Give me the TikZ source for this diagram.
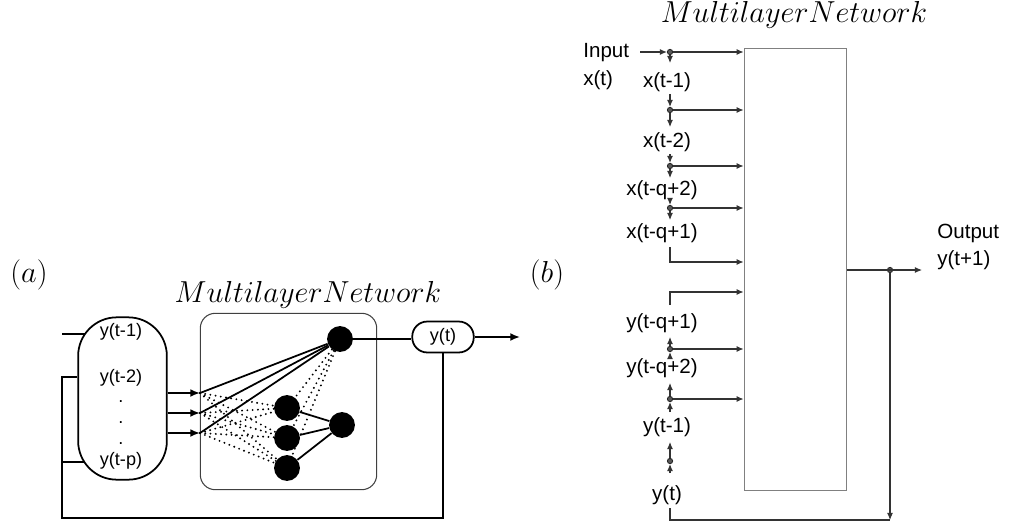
\documentclass[tikz,border=0pt]{standalone}
\usepackage{fontspec}
\newfontfamily\hv{Liberation Sans}
\usetikzlibrary{arrows.meta}
\begin{document}
\begin{tikzpicture}[x=0.02cm,y=-0.02cm,
  lbl/.style={font=\hv\fontsize{10.3}{12}\selectfont, inner sep=0pt},
  lblb/.style={font=\hv\fontsize{11.7}{13}\selectfont, inner sep=0pt},
  ttl/.style={font=\fontsize{17.3}{20}\selectfont, inner sep=0pt},
  neuron/.style={circle, fill=black, minimum size=14.7pt, inner sep=0pt},
  lineA/.style={line width=1pt, black},
  arrA/.style={lineA, -{Latex[length=5.5pt,width=4.5pt]}},
  dotl/.style={line width=1.2pt, line cap=round, dash pattern=on 0pt off 3pt},
  lineB/.style={line width=0.6pt, black!80},
  arrB/.style={lineB, -{Latex[length=4pt,width=3.4pt]}},
  jdot/.style={circle, draw=black!85, fill=black!65, line width=0.5pt, minimum size=3pt, inner sep=0pt},
]
\useasboundingbox (0,0) rectangle (1013,527);

% ---------------- panel (a) ----------------
\node[ttl] (la) at (29,275) {$(a)$};
\node[ttl] (ta) at (308,295) {$Multilayer Network$};
\node[draw, lineA, rounded corners=22pt, minimum width=50.5pt, minimum height=92.4pt, inner sep=0pt] (stad) at (122.5,398.5) {};
\node[lbl] (s1) at (121,332) {y(t-1)};
\node[lbl] (s2) at (121,378) {y(t-2)};
\node[lbl] (sd1) at (121,402) {.};
\node[lbl] (sd2) at (121,423) {.};
\node[lbl] (sd3) at (121,444) {.};
\node[lbl] (sp) at (121,461) {y(t-p)};

\node[draw, black!75, line width=0.6pt, rounded corners=8.5pt, minimum width=100.4pt, minimum height=100.4pt, inner sep=0pt] (net) at (288.5,401.5) {};
\node[neuron] (o) at (340,339) {};
\node[neuron] (h1) at (287,408) {};
\node[neuron] (h2) at (287,438) {};
\node[neuron] (h3) at (287,468) {};
\node[neuron] (h4) at (342,425) {};
\coordinate (i1) at (200,393);
\coordinate (i2) at (200,413);
\coordinate (i3) at (200,433);

\node[draw, lineA, rounded corners=8.5pt, minimum width=35pt, minimum height=17.6pt, lbl] (yt) at (443,337) {y(t)};
\coordinate (aout) at (520,337);
\coordinate (tl) at (62,334);
\coordinate (tle) at (85,334);
\coordinate (bl) at (62,462);
\coordinate (ble) at (85,462);

\foreach \i in {i1,i2,i3} \draw[arrA] (stad.east |- \i) -- (\i);
\foreach \i in {i1,i2,i3} \foreach \h in {h1,h2,h3} \draw[dotl] (\i) -- (\h);
\foreach \h in {h1,h2,h3} \draw[dotl] (o) -- (\h);
\foreach \i in {i1,i2,i3} \draw[lineA] (\i) -- (o);
\foreach \h in {h1,h2,h3} \draw[lineA] (\h) -- (h4);
\draw[lineA] (o.east) -- (yt.west |- o.east);
\draw[arrA] (yt.east) -- (aout);
\draw[lineA] (yt.south) |- (62,518) |- (stad.west |- 0,377);
\draw[lineA] (bl) -- (ble);
\draw[lineA] (tl) -- (tle);

% ---------------- panel (b) ----------------
\node[ttl] (lb) at (547,275) {$(b)$};
\node[ttl] (tb) at (794,15) {$Multilayer Network$};
\node[draw, black!50, line width=0.7pt, minimum width=58.4pt, minimum height=251.2pt, inner sep=0pt] (mln) at (795.5,269.5) {};

\node[lblb, anchor=west] (inp) at (583,53) {Input};
\node[lblb, anchor=west] (xt) at (583,80) {x(t)};
\node[lblb] (xt1) at (667,82) {x(t-1)};
\node[lblb] (xt2) at (667,142) {x(t-2)};
\node[lblb] (xq2) at (662,190) {x(t-q+2)};
\node[lblb] (xq1) at (662,233) {x(t-q+1)};
\node[lblb] (yq1) at (662,323) {y(t-q+1)};
\node[lblb] (yq2) at (662,368) {y(t-q+2)};
\node[lblb] (yt1) at (667,427) {y(t-1)};
\node[lblb] (ytb) at (667,495) {y(t)};
\node[lblb, anchor=west] (out1) at (937,233) {Output};
\node[lblb, anchor=west] (out2) at (937,260) {y(t+1)};

\node[jdot] (d0) at (670,52) {};
\node[jdot] (d1) at (670,110) {};
\node[jdot] (d2) at (670,166) {};
\node[jdot] (d3) at (670,208) {};
\node[jdot] (d4) at (670,349) {};
\node[jdot] (d5) at (670,399) {};
\node[jdot] (d6) at (670,461) {};
\node[jdot] (od) at (890,270) {};
\coordinate (inS) at (640,52);
\coordinate (oend) at (922,270);

% input and x chain
\draw[arrB] (inS) -- (d0);
\draw[arrB] (d0) -- (mln.west |- d0);
\draw[arrB] (d0) -- ++(0,11);
\draw[arrB] (670,94) -- (d1);
\draw[arrB] (d1) -- ++(0,17);
\draw[arrB] (d1) -- (mln.west |- d1);
\draw[arrB] (670,154) -- (d2);
\draw[arrB] (d2) -- ++(0,12);
\draw[arrB] (d2) -- (mln.west |- d2);
\draw[arrB] (670,198) -- (d3);
\draw[arrB] (d3) -- ++(0,12);
\draw[arrB] (d3) -- (mln.west |- d3);
\draw[arrB] (670,247) |- (mln.west |- 0,262);
% y chain
\draw[arrB] (670,305) |- (mln.west |- 0,292);
\draw[arrB] (670,357) -- (d4);
\draw[arrB] (d4) -- ++(0,-12);
\draw[arrB] (d4) -- (mln.west |- d4);
\draw[arrB] (670,412) -- (d5);
\draw[arrB] (d5) -- ++(0,-16);
\draw[arrB] (d5) -- (mln.west |- d5);
\draw[arrB] (670,473) -- (d6);
\draw[arrB] (d6) -- ++(0,-19);
% output and feedback
\draw[arrB] (mln.east |- od) -- (oend);
\draw[arrB] (od) -- (od |- 0,520);
\draw[lineB] (670,508) |- (od |- 0,520);
\end{tikzpicture}
\end{document}
